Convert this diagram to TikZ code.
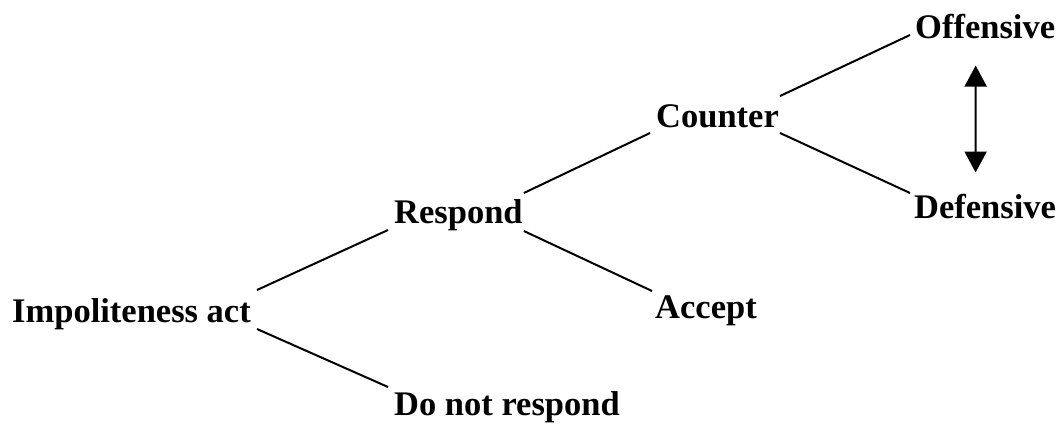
\documentclass[tikz,border=0pt]{standalone}
\usepackage{fontspec}
\setmainfont{Liberation Serif}
\usetikzlibrary{arrows.meta}
\begin{document}
\begin{tikzpicture}[x=1pt,y=-1pt,
  lbl/.style={inner sep=0pt,anchor=base west,font=\fontsize{34.5}{40}\selectfont\bfseries},
  edge/.style={line width=2pt,black},
  dbl/.style={line width=2pt,{Triangle[width=22pt,length=21pt]}-{Triangle[width=22pt,length=21pt]}}]
\useasboundingbox (0,0) rectangle (1059,423);
\node[lbl] (imp) at (12,322) {Impoliteness act};
\node[lbl] (resp) at (394,223) {Respond};
\node[lbl] (dnr) at (394,415) {Do not respond};
\node[lbl] (acc) at (655,318) {Accept};
\node[lbl] (cnt) at (656,127) {Counter};
\node[lbl] (off) at (915,38) {Offensive};
\node[lbl] (def) at (914,218) {Defensive};
\draw[edge] ([shift={(6pt,32pt)}]imp.base east) -- ([shift={(-6pt,-7pt)}]resp.base west);
\draw[edge] ([shift={(6pt,-7pt)}]imp.base east) -- ([shift={(-6pt,28pt)}]dnr.base west);
\draw[edge] ([shift={(1pt,30pt)}]resp.base east) -- ([shift={(-6pt,-6pt)}]cnt.base west);
\draw[edge] ([shift={(1pt,-8pt)}]resp.base east) -- ([shift={(-3pt,27pt)}]acc.base west);
\draw[edge] ([shift={(1pt,31pt)}]cnt.base east) -- ([shift={(-5pt,3pt)}]off.base west);
\draw[edge] ([shift={(1pt,-6pt)}]cnt.base east) -- ([shift={(-4pt,25pt)}]def.base west);
\draw[dbl] ([shift={(-9.5pt,-27pt)}]off.south) -- ([shift={(-9.5pt,21pt)}]def.north);
\end{tikzpicture}
\end{document}
